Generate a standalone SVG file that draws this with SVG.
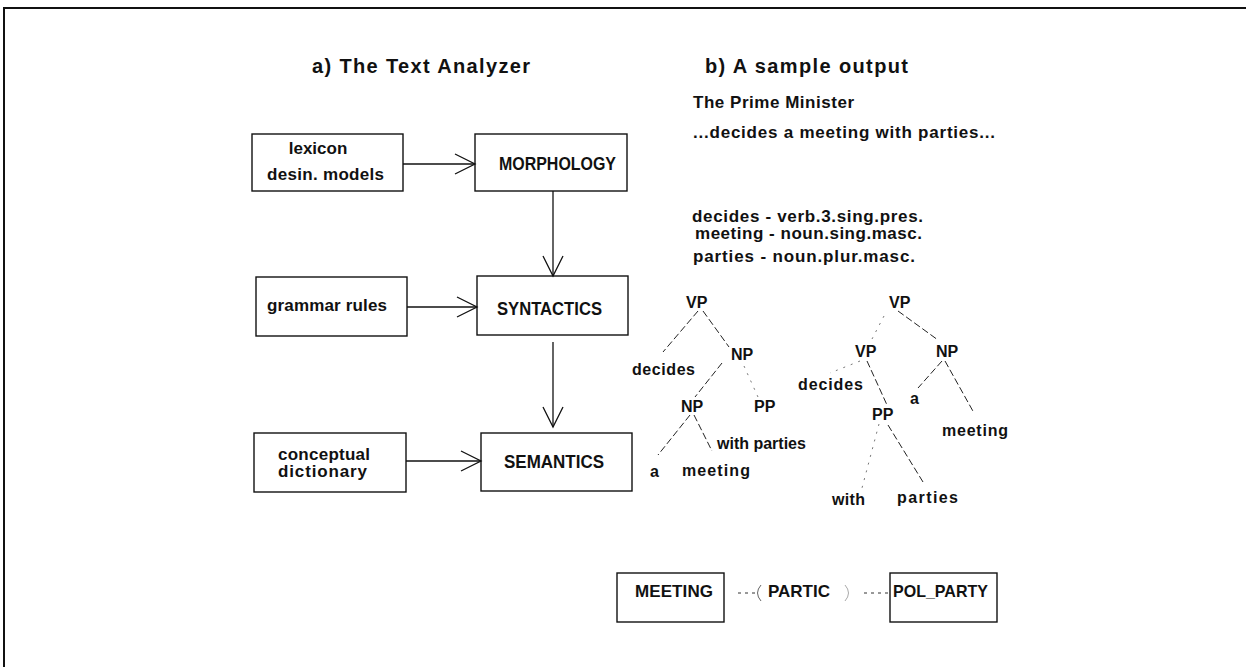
<svg xmlns="http://www.w3.org/2000/svg" width="1246" height="667" viewBox="0 0 1246 667">
<style>
  .box { fill: #fff; stroke: #111; stroke-width: 1.4; }
  .t { font-family: "Liberation Sans", Arial, sans-serif; font-weight: bold; fill: #111; }
  .title { font-size: 20px; }
  .lbl { font-size: 17px; }
  .cap { font-size: 18px; }
  .tr { font-size: 16px; }
  .conn { stroke: #111; stroke-width: 1.3; fill: none; }
  .tree { stroke: #222; stroke-width: 1; fill: none; stroke-dasharray: 7 3; }
  .faint { stroke: #777; stroke-width: 1; fill: none; stroke-dasharray: 2 6; }
  .dot { stroke: #333; stroke-width: 1; fill: none; stroke-dasharray: 3 4; }
</style>
<defs>
  <marker id="vee" markerUnits="userSpaceOnUse" markerWidth="24" markerHeight="24" refX="21" refY="11" orient="auto">
    <path d="M1,1 L21,11 L1,21" fill="none" stroke="#111" stroke-width="1.3"/>
  </marker>
</defs>
<rect width="1246" height="667" fill="#fff"/>
<g id="frame">
  <line x1="3" y1="8" x2="1246" y2="8" stroke="#111" stroke-width="2"/>
  <line x1="4" y1="7" x2="4" y2="667" stroke="#111" stroke-width="2"/>
</g>
<g id="titles">
  <text class="t title" x="312" y="73" textLength="218">a) The Text Analyzer</text>
  <text class="t title" x="705" y="73" textLength="203">b) A sample output</text>
</g>
<g id="lexicon">
  <rect class="box" x="252" y="134" width="151" height="57"/>
  <text class="t lbl" x="318" y="154" text-anchor="middle">lexicon</text>
  <text class="t lbl" x="267" y="180" textLength="117">desin. models</text>
</g>
<g id="morphology">
  <rect class="box" x="475" y="134" width="152" height="57"/>
  <text class="t cap" x="499" y="170" textLength="117" lengthAdjust="spacingAndGlyphs">MORPHOLOGY</text>
</g>
<g id="grammar">
  <rect class="box" x="256" y="277" width="151" height="59"/>
  <text class="t lbl" x="267" y="311" textLength="120">grammar rules</text>
</g>
<g id="syntactics">
  <rect class="box" x="477" y="276" width="151" height="59"/>
  <text class="t cap" x="497" y="315" textLength="105" lengthAdjust="spacingAndGlyphs">SYNTACTICS</text>
</g>
<g id="conceptual">
  <rect class="box" x="254" y="433" width="152" height="59"/>
  <text class="t lbl" x="278" y="460" textLength="92">conceptual</text>
  <text class="t lbl" x="278" y="477" textLength="89">dictionary</text>
</g>
<g id="semantics">
  <rect class="box" x="481" y="433" width="151" height="58"/>
  <text class="t cap" x="504" y="468" textLength="100" lengthAdjust="spacingAndGlyphs">SEMANTICS</text>
</g>
<g id="connectors">
  <line class="conn" x1="403" y1="164" x2="475" y2="164" marker-end="url(#vee)"/>
  <line class="conn" x1="407" y1="307" x2="477" y2="307" marker-end="url(#vee)"/>
  <line class="conn" x1="406" y1="461" x2="481" y2="461" marker-end="url(#vee)"/>
  <line class="conn" x1="553" y1="191" x2="553" y2="276" marker-end="url(#vee)"/>
  <line class="conn" x1="553" y1="342" x2="553" y2="427" marker-end="url(#vee)"/>
</g>
<g id="sample-text">
  <text class="t lbl" x="693" y="108" textLength="161">The Prime Minister</text>
  <text class="t lbl" x="693" y="138" textLength="302">...decides a meeting with parties...</text>
  <text class="t lbl" x="692" y="222" textLength="231">decides - verb.3.sing.pres.</text>
  <text class="t lbl" x="695" y="239" textLength="227">meeting - noun.sing.masc.</text>
  <text class="t lbl" x="693" y="262" textLength="222">parties - noun.plur.masc.</text>
</g>
<g id="tree-left">
  <g class="tree-lines">
    <line class="tree" x1="698" y1="311" x2="663" y2="352"/>
    <line class="tree" x1="703" y1="311" x2="729" y2="347"/>
    <line class="tree" x1="722" y1="363" x2="695" y2="397"/>
    <line class="faint" x1="744" y1="366" x2="758" y2="397"/>
    <line class="tree" x1="690" y1="415" x2="658" y2="455"/>
    <line class="tree" x1="694" y1="415" x2="712" y2="451"/>
  </g>
  <text class="t tr" x="686" y="308">VP</text>
  <text class="t tr" x="731" y="360">NP</text>
  <text class="t tr" x="632" y="375" textLength="63">decides</text>
  <text class="t tr" x="681" y="412">NP</text>
  <text class="t tr" x="754" y="412">PP</text>
  <text class="t tr" x="717" y="449">with parties</text>
  <text class="t tr" x="650" y="477">a</text>
  <text class="t tr" x="682" y="476" textLength="68">meeting</text>
</g>
<g id="tree-right">
  <g class="tree-lines">
    <line class="tree" x1="898" y1="311" x2="938" y2="340"/>
    <line class="faint" x1="884" y1="316" x2="872" y2="339"/>
    <line class="faint" x1="860" y1="361" x2="830" y2="373"/>
    <line class="tree" x1="867" y1="361" x2="887" y2="405"/>
    <line class="tree" x1="942" y1="361" x2="918" y2="388"/>
    <line class="tree" x1="945" y1="361" x2="974" y2="413"/>
    <line class="faint" x1="879" y1="424" x2="862" y2="488"/>
    <line class="tree" x1="888" y1="425" x2="923" y2="482"/>
  </g>
  <text class="t tr" x="889" y="308">VP</text>
  <text class="t tr" x="855" y="357">VP</text>
  <text class="t tr" x="936" y="357">NP</text>
  <text class="t tr" x="798" y="390" textLength="65">decides</text>
  <text class="t tr" x="872" y="420">PP</text>
  <text class="t tr" x="910" y="404">a</text>
  <text class="t tr" x="942" y="436" textLength="66">meeting</text>
  <text class="t tr" x="832" y="505" textLength="33">with</text>
  <text class="t tr" x="897" y="503" textLength="61">parties</text>
</g>
<g id="meeting">
  <rect class="box" x="617" y="573" width="107" height="49"/>
  <text class="t lbl" x="635" y="597" textLength="78">MEETING</text>
</g>
<g id="partic">
  <path d="M761,585 Q754,593 761,601" fill="none" stroke="#666" stroke-width="1"/>
  <path d="M845,585 Q852,593 845,601" fill="none" stroke="#aaa" stroke-width="1"/>
  <text class="t lbl" x="768" y="597" textLength="62">PARTIC</text>
</g>
<g id="pol_party">
  <rect class="box" x="890" y="573" width="107" height="49"/>
  <text class="t lbl" x="893" y="597" textLength="95" lengthAdjust="spacingAndGlyphs">POL_PARTY</text>
</g>
<g id="relation-connectors">
  <line class="dot" x1="738" y1="593" x2="756" y2="593"/>
  <line class="dot" x1="864" y1="593" x2="889" y2="593"/>
</g>
</svg>
